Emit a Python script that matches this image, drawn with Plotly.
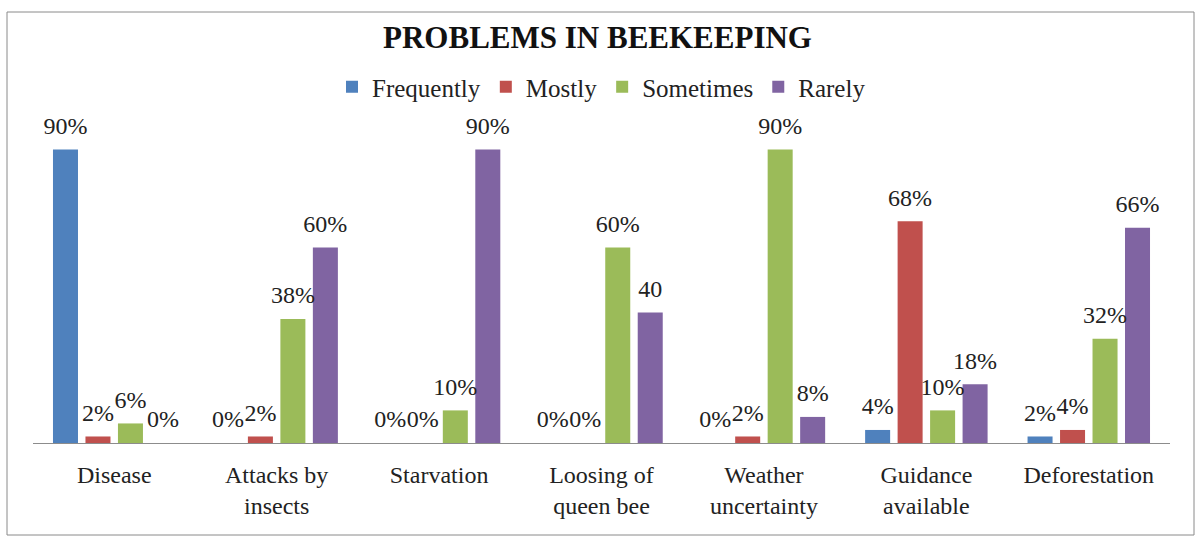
import plotly.graph_objects as go

categories = ["Disease", "Attacks by<br>insects", "Starvation", "Loosing of<br>queen bee",
              "Weather<br>uncertainty", "Guidance<br>available", "Deforestation"]
series_names = ["Frequently", "Mostly", "Sometimes", "Rarely"]
frequently = [90, 0, 0, 0, 0, 4, 2]
mostly = [2, 2, 0, 0, 2, 68, 4]
sometimes = [6, 38, 10, 60, 90, 10, 32]
rarely = [0, 60, 90, 40, 8, 18, 66]
# the Rarely label for "Loosing of queen bee" is printed without a percent sign
rarely_labels = ["0%", "60%", "90%", "40", "8%", "18%", "66%"]

colors = ["#4F81BD", "#C0504D", "#9BBB59", "#8064A2"]
serif = "Liberation Serif"

W, H = 1195, 536
ml, mr, mt, mb = 33, 25, 117, 93
pw, ph = W - ml - mr, H - mt - mb


def px_to_paper_x(px):
    return (px - ml) / pw


def px_to_paper_y(py):
    return (H - mb - py) / ph


fig = go.Figure()
all_values = [frequently, mostly, sometimes, rarely]
for i, (name, vals, col) in enumerate(zip(series_names, all_values, colors)):
    fig.add_trace(go.Bar(
        name=name, x=categories, y=vals, marker_color=col, marker_line_width=0,
        offsetgroup=str(i), hoverinfo="skip",
    ))

# value labels, grouped the same way as the bars and lifted a little above them
for i, (name, vals) in enumerate(zip(series_names, all_values)):
    labels = rarely_labels if name == "Rarely" else [f"{v}%" for v in vals]
    fig.add_trace(go.Scatter(
        x=categories, y=vals, text=labels, mode="markers+text",
        textposition="top center", offsetgroup=str(i), showlegend=False,
        marker=dict(size=14, opacity=0), cliponaxis=False, hoverinfo="skip",
        textfont=dict(family=serif, size=24, color="#222"),
    ))

fig.update_layout(
    width=W, height=H,
    margin=dict(l=ml, r=mr, t=mt, b=mb),
    paper_bgcolor="white", plot_bgcolor="white",
    barmode="group", bargap=0.2, bargroupgap=0.23,
    scattermode="group", scattergap=0.2,
    title=dict(text="<b>PROBLEMS IN BEEKEEPING</b>", x=0.5, xanchor="center",
               y=1 - 37 / H, yanchor="middle",
               font=dict(family=serif, size=31, color="#111")),
    legend=dict(orientation="h", x=0.5, xanchor="center", y=px_to_paper_y(87),
                yanchor="middle", font=dict(family=serif, size=25, color="#222"),
                itemwidth=30, traceorder="normal"),
    xaxis=dict(showline=True, linecolor="#8c8c8c", linewidth=1, ticks="",
               tickfont=dict(family=serif, size=24, color="#222"),
               ticklabelstandoff=10, fixedrange=True),
    yaxis=dict(range=[0, 100], visible=False, showgrid=False, fixedrange=True),
    shapes=[dict(type="rect", xref="paper", yref="paper",
                 x0=px_to_paper_x(7), x1=px_to_paper_x(1194),
                 y0=px_to_paper_y(535), y1=px_to_paper_y(12),
                 line=dict(color="#8a8a8a", width=1), layer="below")],
)

fig.write_html("out.html")
